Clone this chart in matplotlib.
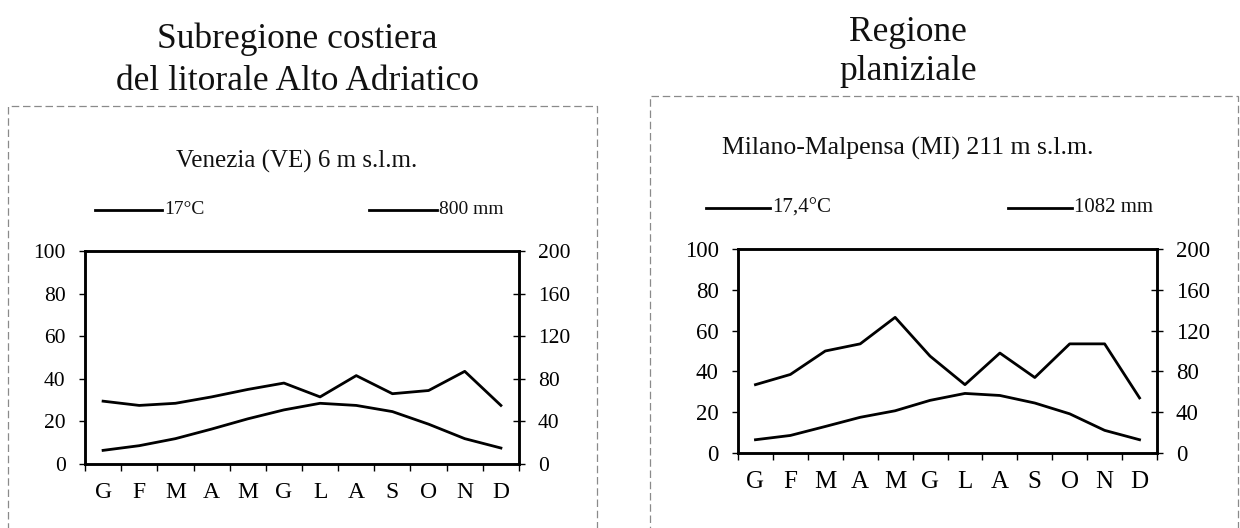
import matplotlib
matplotlib.use("Agg")
import matplotlib.pyplot as plt
from matplotlib.lines import Line2D
from matplotlib.patches import Rectangle
import numpy as np

plt.rcParams['font.family'] = ['Liberation Serif', 'DejaVu Serif']

months = ["G", "F", "M", "A", "M", "G", "L", "A", "S", "O", "N", "D"]

# Venezia
ven_temp = [6.4, 8.6, 11.9, 16.4, 21.2, 25.4, 28.5, 27.5, 24.6, 18.7, 11.9, 7.5]
ven_prec = [59, 55, 57, 63, 70, 76, 63, 83, 66, 69, 87, 55]
# Milano-Malpensa
mil_temp = [6.5, 8.6, 13.0, 17.5, 20.7, 25.8, 29.2, 28.2, 24.5, 19.2, 11.1, 6.5]
mil_prec = [67, 77, 100, 107, 133, 95, 67, 98, 74, 107, 107, 54]

left_ticks = [0, 20, 40, 60, 80, 100]
right_ticks = [0, 40, 80, 120, 160, 200]

W, H = 1240, 528
fig = plt.figure(figsize=(W / 100, H / 100), dpi=100)
fig.patch.set_facecolor("white")


def fx(x):
    return x / W


def fy(y):
    return 1 - y / H


def panel(ax_px, temp, prec, box_px, titles, title_y, subtitle, sub_y,
          leg_y, leg1, leg2, label1, label2, tx, tick_fs, month_fs, leg_fs, sub_fs):
    bx0, by0, bx1, by1 = box_px
    fig.add_artist(Rectangle((fx(bx0), fy(by1)), fx(bx1) - fx(bx0), fy(by0) - fy(by1),
                             transform=fig.transFigure, fill=False,
                             edgecolor="#8a8a8a", linewidth=0.9, linestyle=(0, (6, 3))))
    for t, y in zip(titles, title_y):
        fig.text(fx(tx), fy(y), t, ha="center", va="baseline", fontsize=25.5, color="#111111")
    fig.text(fx(tx), fy(sub_y), subtitle, ha="center", va="center", fontsize=sub_fs, color="#111111")
    for (x0, x1), lab in ((leg1, label1), (leg2, label2)):
        fig.add_artist(Line2D([fx(x0), fx(x1)], [fy(leg_y), fy(leg_y)],
                              transform=fig.transFigure, color="black", linewidth=2))
        fig.text(fx(x1 + 2), fy(leg_y), lab, ha="left", va="center", fontsize=leg_fs, color="#111111")

    l, r, t, b = ax_px
    ax = fig.add_axes([fx(l), fy(b), fx(r) - fx(l), fy(t) - fy(b)])
    x = np.arange(12)
    ax.plot(x, temp, color="black", linewidth=2.0)
    ax.set_xlim(-0.5, 11.5)
    ax.set_ylim(0, 100)
    ax.set_yticks(left_ticks)
    ax.set_xticks(x)
    ax.set_xticklabels(months)
    ax.set_xticks(np.arange(-0.5, 12, 1), minor=True)
    ax.tick_params(axis="x", which="major", length=0, pad=13, labelsize=month_fs)
    ax.tick_params(axis="x", which="minor", length=5, width=1, direction="out")
    ax.tick_params(axis="y", length=4, width=1, direction="out", pad=10, labelsize=tick_fs)
    for s in ax.spines.values():
        s.set_linewidth(1.8)
    ax2 = ax.twinx()
    ax2.plot(x, prec, color="black", linewidth=2.0)
    ax2.set_ylim(0, 200)
    ax2.set_yticks(right_ticks)
    ax2.tick_params(axis="y", length=9, width=1, direction="inout", pad=9, labelsize=tick_fs)
    for s in ax2.spines.values():
        s.set_linewidth(1.8)
    return ax


panel((85, 519, 251, 464), ven_temp, ven_prec, (8, 106, 597, 540),
      ["Subregione costiera", "del litorale Alto Adriatico"], [48, 90],
      "Venezia (VE) 6 m s.l.m.", 161, 210, (95, 162), (369, 437),
      "17°C", "800 mm", 297, 15.5, 17, 14, 18)

panel((738, 1157, 249, 453), mil_temp, mil_prec, (650, 96, 1238, 540),
      ["Regione", "planiziale"], [41, 80],
      "Milano-Malpensa (MI) 211 m s.l.m.", 148, 208, (706, 770), (1008, 1072),
      "17,4°C", "1082 mm", 908, 16.5, 18, 15, 18.5)

fig.savefig("out.png", dpi=100, facecolor="white")
